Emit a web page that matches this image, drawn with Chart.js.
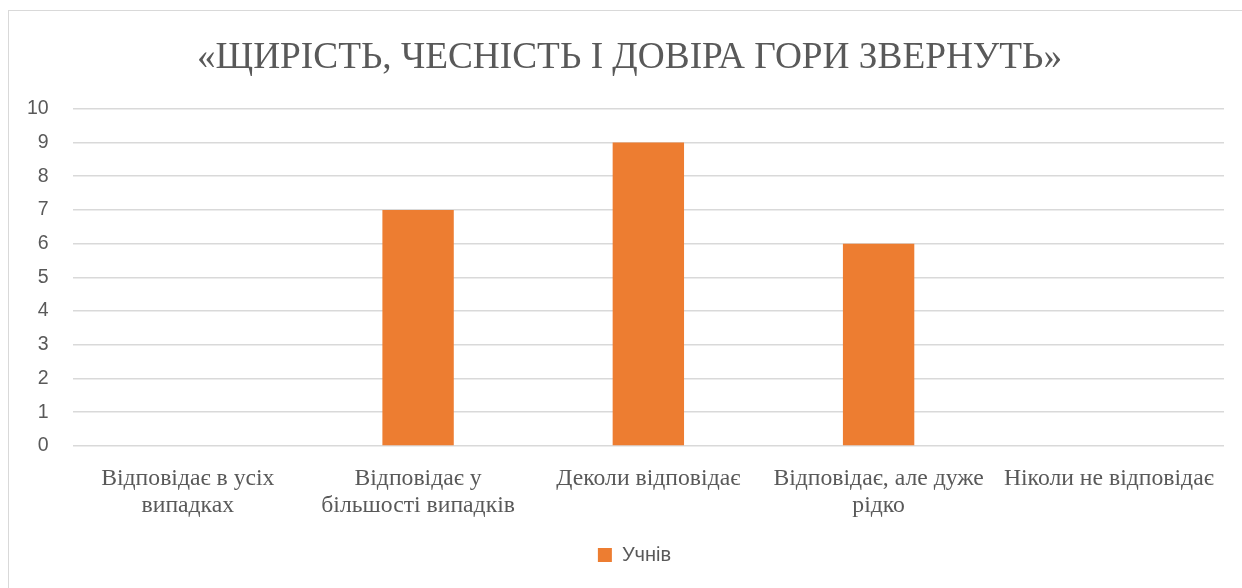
<!DOCTYPE html>
<html>
<head>
<meta charset="utf-8">
<script src="https://cdn.jsdelivr.net/npm/chart.js@4.4.0/dist/chart.umd.min.js"></script>
<style>
  body { margin: 0; background: #fff; }
  #box { position: absolute; left: 8px; top: 10px; width: 1240px; height: 590px; border: 1px solid #d9d9d9; box-sizing: border-box; }
  #wrap { position: absolute; left: -24px; top: 0; width: 1257px; height: 578px; }
</style>
</head>
<body>
<div id="box"><div id="wrap"><canvas id="barChart"></canvas></div></div>
<script>
// chart data
const categories = [
    ['Відповідає в усіх', 'випадках'],
    ['Відповідає у', 'більшості випадків'],
    'Деколи відповідає',
    ['Відповідає, але дуже', 'рідко'],
    'Ніколи не відповідає'
];
const pupils = [0, 7, 9, 6, 0];
const seriesName = 'Учнів';
const titleText = '«ЩИРІСТЬ, ЧЕСНІСТЬ І ДОВІРА ГОРИ ЗВЕРНУТЬ»';

const grey = '#595959';

// title and legend in the original sit a bit right of the plot centre
const nudgeBoxes = {
    id: 'nudgeBoxes',
    afterLayout(chart) {
        if (chart.titleBlock) {
            chart.titleBlock.left += 16;
            chart.titleBlock.right += 16;
        }
        if (chart.legend) {
            chart.legend.left += 21;
            chart.legend.right += 21;
        }
    }
};

let ctx = document.getElementById('barChart').getContext('2d');
let barChart = new Chart(ctx, {
    type: 'bar',
    data: {
        labels: categories,
        datasets: [{
            label: seriesName,
            data: pupils,
            backgroundColor: '#ed7d31',
            borderWidth: 0,
            barPercentage: 0.31,
            categoryPercentage: 1
        }]
    },
    options: {
        responsive: true,
        maintainAspectRatio: false,
        animation: false,
        layout: { padding: { left: 18, right: 18, top: 14, bottom: 14 } },
        plugins: {
            title: {
                display: true,
                text: titleText,
                color: grey,
                font: { family: 'Liberation Serif', size: 37.3, weight: 'normal' },
                padding: { top: 11, bottom: 28 }
            },
            legend: {
                position: 'bottom',
                labels: {
                    color: grey,
                    font: { family: 'Liberation Sans', size: 20 },
                    boxWidth: 14,
                    boxHeight: 14,
                    padding: 15
                }
            },
            tooltip: { enabled: false }
        },
        scales: {
            x: {
                grid: { display: false },
                border: { display: false },
                ticks: {
                    color: grey,
                    font: { family: 'Liberation Serif', size: 23.7, lineHeight: 1.14 },
                    maxRotation: 0,
                    autoSkip: false,
                    padding: 11
                }
            },
            y: {
                min: 0,
                max: 10,
                grid: { color: '#d9d9d9', lineWidth: 1.5, drawTicks: false },
                border: { display: false },
                ticks: {
                    stepSize: 1,
                    color: grey,
                    font: { family: 'Liberation Sans', size: 19.5 },
                    padding: 24
                }
            }
        }
    },
    plugins: [nudgeBoxes]
});
</script>
</body>
</html>
